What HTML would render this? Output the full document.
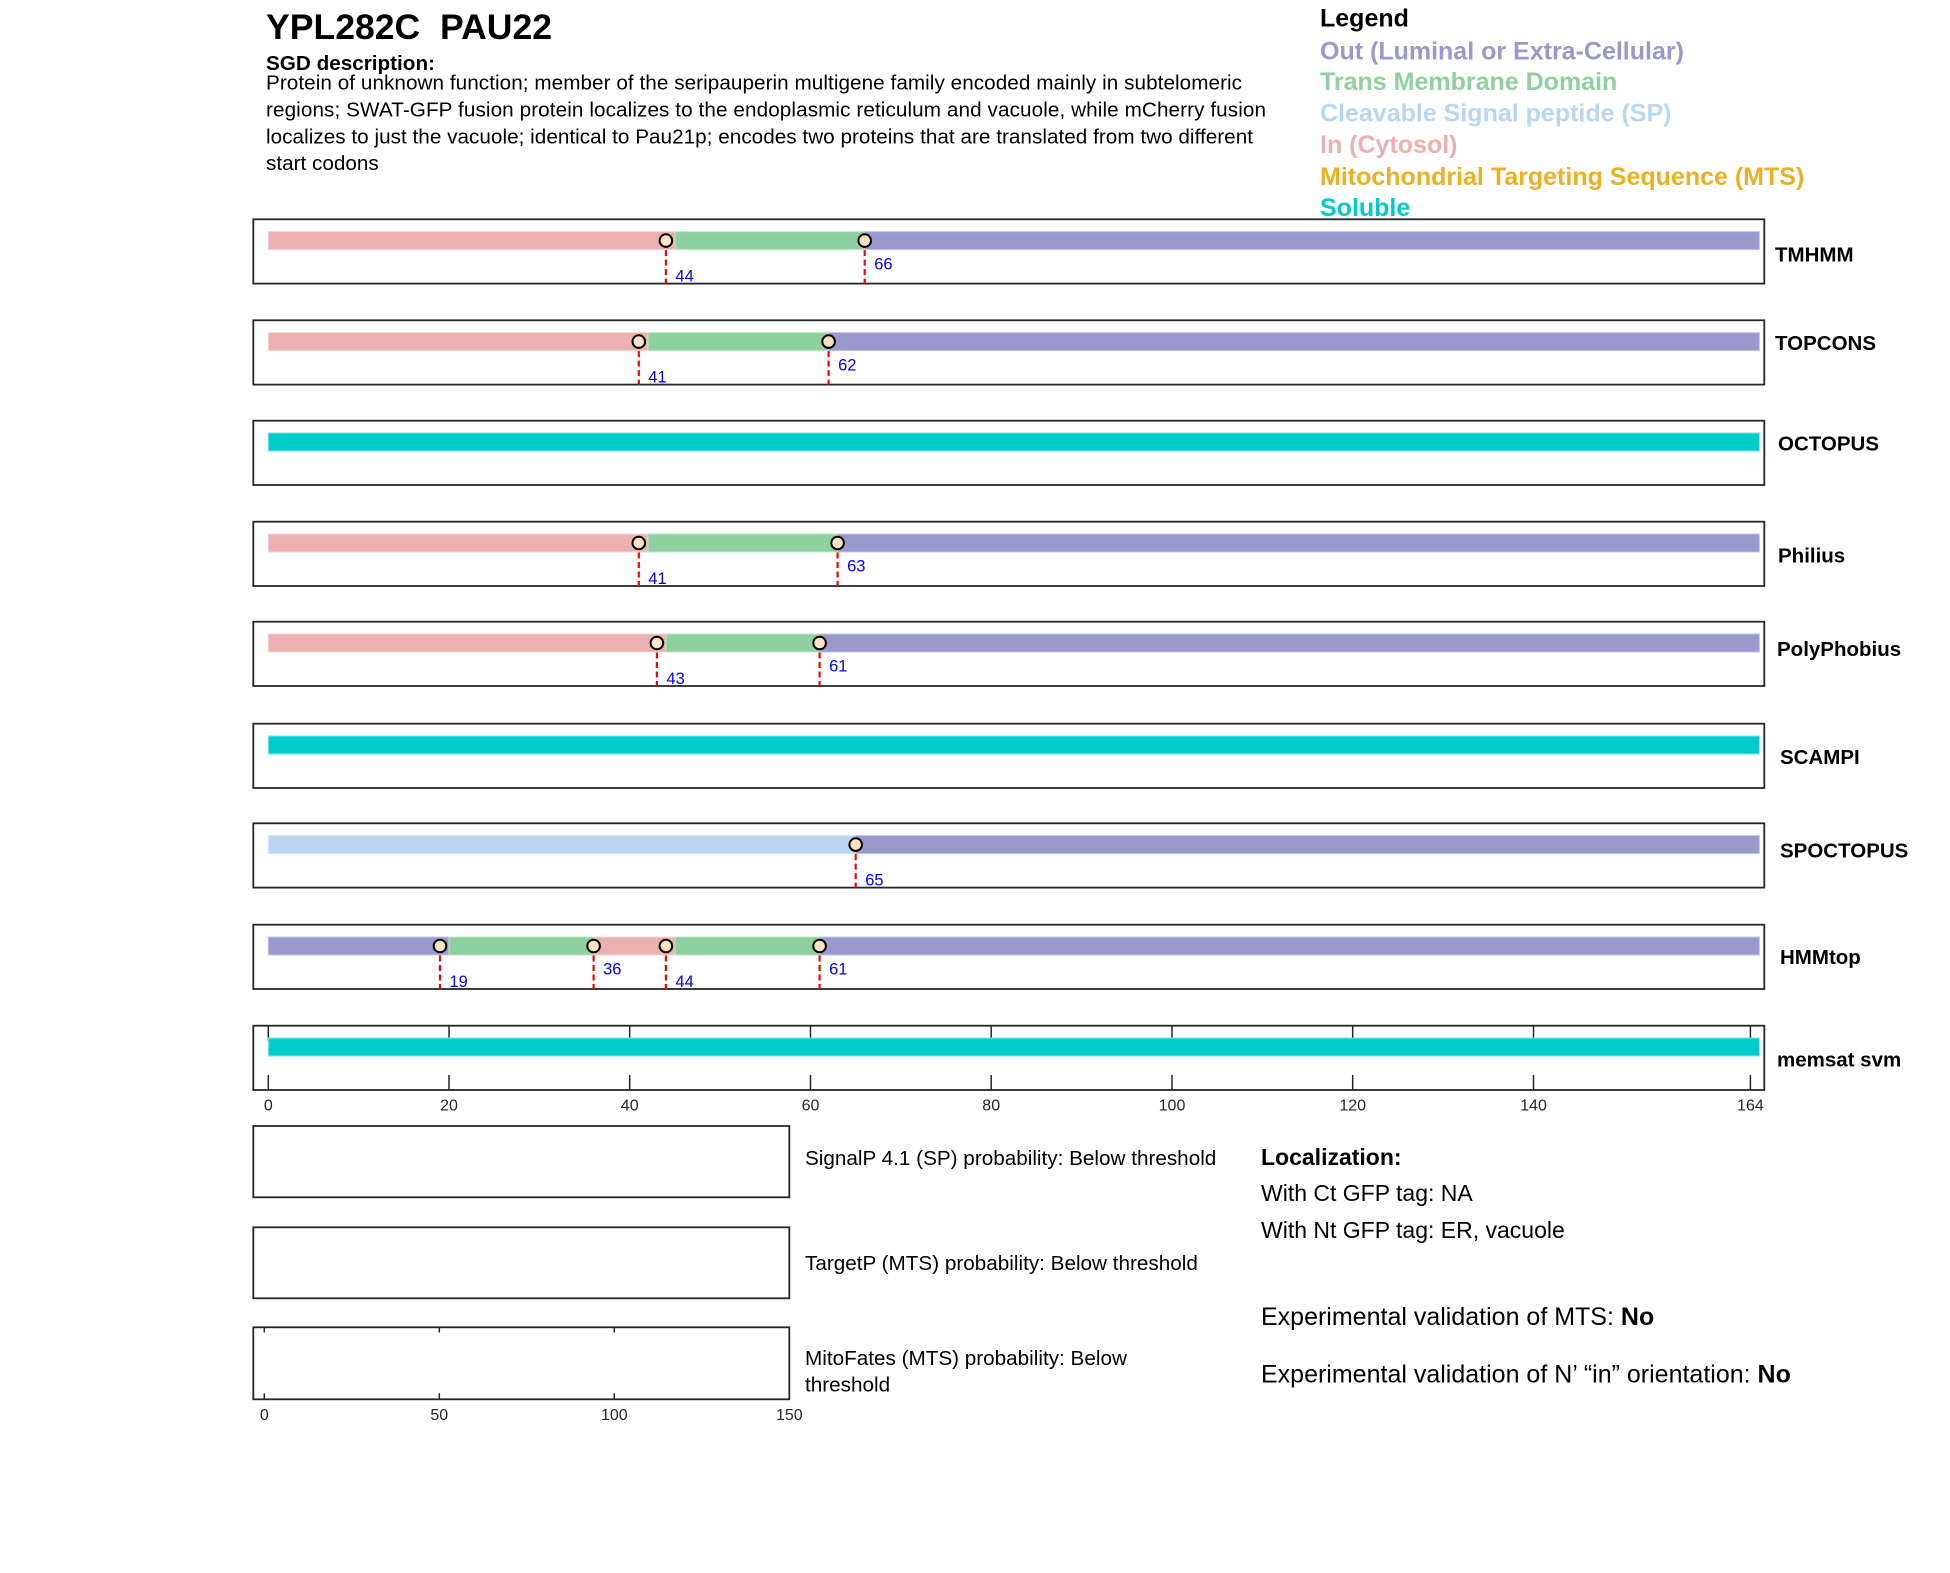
<!DOCTYPE html>
<html>
<head>
<meta charset="utf-8">
<style>
html,body{margin:0;padding:0;background:#fff;}
svg{display:block;}
text{font-family:"Liberation Sans",Arial,Helvetica,sans-serif;}
.lbl{font-weight:bold;font-size:20.5px;fill:#000;}
.num{font-size:16.5px;fill:#0000ff;}
.tick{font-size:16px;fill:#262626;}
.box{fill:none;stroke:#262626;stroke-width:1.8;}
.dash{stroke:#ff0000;stroke-width:2.2;stroke-dasharray:6,3.5;}
.mk{fill:#fde2c4;stroke:#000;stroke-width:2;}
.out{fill:#9999cc;stroke:#c4c4e4;stroke-width:1;}
.tm{fill:#8fd19e;stroke:#bfe6c8;stroke-width:1;}
.inn{fill:#ecb0b0;stroke:#f6d4d4;stroke-width:1;}
.sp{fill:#bad6f3;stroke:#d9e8f8;stroke-width:1;}
.sol{fill:#00cccc;stroke:#80e6e6;stroke-width:1;}
.desc{font-size:20.7px;fill:#000;}
.leg{font-weight:bold;font-size:25px;}
</style>
</head>
<body>
<svg width="1950" height="1573" viewBox="0 0 1950 1573" xmlns="http://www.w3.org/2000/svg">
<rect x="0" y="0" width="1950" height="1573" fill="#fff"/>

<!-- Title & description -->
<text x="266" y="39" font-weight="bold" font-size="35.6px" fill="#000" xml:space="preserve">YPL282C  PAU22</text>
<text x="266" y="70" font-weight="bold" font-size="20.7px" fill="#000">SGD description:</text>
<text class="desc" x="266" y="89.3" textLength="976" lengthAdjust="spacing">Protein of unknown function; member of the seripauperin multigene family encoded mainly in subtelomeric</text>
<text class="desc" x="266" y="116.5" textLength="1000" lengthAdjust="spacing">regions; SWAT-GFP fusion protein localizes to the endoplasmic reticulum and vacuole, while mCherry fusion</text>
<text class="desc" x="266" y="143.3" textLength="987" lengthAdjust="spacing">localizes to just the vacuole; identical to Pau21p; encodes two proteins that are translated from two different</text>
<text class="desc" x="266" y="170">start codons</text>

<!-- Legend -->
<text class="leg" x="1320" y="26.7" fill="#000">Legend</text>
<text class="leg" x="1320" y="59.3" fill="#9999cc">Out (Luminal or Extra-Cellular)</text>
<text class="leg" x="1320" y="90" fill="#8fd19e">Trans Membrane Domain</text>
<text class="leg" x="1320" y="121.7" fill="#bad6f3">Cleavable Signal peptide (SP)</text>
<text class="leg" x="1320" y="153" fill="#ecb0b0">In (Cytosol)</text>
<text class="leg" x="1320" y="185" fill="#eeb020">Mitochondrial Targeting Sequence (MTS)</text>
<text class="leg" x="1320" y="216" fill="#00cccc">Soluble</text>

<!-- Panel 1: TMHMM -->
<rect class="box" x="253.3" y="219.3" width="1511" height="64.3"/>
<rect class="inn" x="268.3" y="231.6" width="406.7" height="18"/>
<rect class="tm" x="675" y="231.6" width="189.7" height="18"/>
<rect class="out" x="864.7" y="231.6" width="894.7" height="18"/>
<line class="dash" x1="665.9" y1="240.6" x2="665.9" y2="283.6"/>
<line class="dash" x1="864.7" y1="240.6" x2="864.7" y2="283.6"/>
<circle class="mk" cx="665.9" cy="240.6" r="6.3"/>
<circle class="mk" cx="864.7" cy="240.6" r="6.3"/>
<text class="num" x="675.4" y="281.6">44</text>
<text class="num" x="874.2" y="269.3">66</text>
<text class="lbl" x="1775" y="261.7">TMHMM</text>

<!-- Panel 2: TOPCONS -->
<rect class="box" x="253.3" y="320.3" width="1511" height="64.3"/>
<rect class="inn" x="268.3" y="332.6" width="379.6" height="18"/>
<rect class="tm" x="647.9" y="332.6" width="180.7" height="18"/>
<rect class="out" x="828.6" y="332.6" width="930.8" height="18"/>
<line class="dash" x1="638.8" y1="341.6" x2="638.8" y2="384.6"/>
<line class="dash" x1="828.6" y1="341.6" x2="828.6" y2="384.6"/>
<circle class="mk" cx="638.8" cy="341.6" r="6.3"/>
<circle class="mk" cx="828.6" cy="341.6" r="6.3"/>
<text class="num" x="648.3" y="382.6">41</text>
<text class="num" x="838.1" y="370.3">62</text>
<text class="lbl" x="1775" y="350">TOPCONS</text>

<!-- Panel 3: OCTOPUS -->
<rect class="box" x="253.3" y="420.7" width="1511" height="64.3"/>
<rect class="sol" x="268.3" y="433" width="1491.1" height="18"/>
<text class="lbl" x="1778" y="450.7">OCTOPUS</text>

<!-- Panel 4: Philius -->
<rect class="box" x="253.3" y="521.7" width="1511" height="64.3"/>
<rect class="inn" x="268.3" y="534" width="379.6" height="18"/>
<rect class="tm" x="647.9" y="534" width="189.7" height="18"/>
<rect class="out" x="837.6" y="534" width="921.8" height="18"/>
<line class="dash" x1="638.8" y1="543" x2="638.8" y2="586"/>
<line class="dash" x1="837.6" y1="543" x2="837.6" y2="586"/>
<circle class="mk" cx="638.8" cy="543" r="6.3"/>
<circle class="mk" cx="837.6" cy="543" r="6.3"/>
<text class="num" x="648.3" y="584">41</text>
<text class="num" x="847.1" y="571.7">63</text>
<text class="lbl" x="1778" y="562.3">Philius</text>

<!-- Panel 5: PolyPhobius -->
<rect class="box" x="253.3" y="621.7" width="1511" height="64.3"/>
<rect class="inn" x="268.3" y="634" width="397.6" height="18"/>
<rect class="tm" x="665.9" y="634" width="153.7" height="18"/>
<rect class="out" x="819.6" y="634" width="939.8" height="18"/>
<line class="dash" x1="656.9" y1="643" x2="656.9" y2="686"/>
<line class="dash" x1="819.6" y1="643" x2="819.6" y2="686"/>
<circle class="mk" cx="656.9" cy="643" r="6.3"/>
<circle class="mk" cx="819.6" cy="643" r="6.3"/>
<text class="num" x="666.4" y="684">43</text>
<text class="num" x="829.1" y="671.7">61</text>
<text class="lbl" x="1777" y="656">PolyPhobius</text>

<!-- Panel 6: SCAMPI -->
<rect class="box" x="253.3" y="723.7" width="1511" height="64.3"/>
<rect class="sol" x="268.3" y="736" width="1491.1" height="18"/>
<text class="lbl" x="1780" y="764">SCAMPI</text>

<!-- Panel 7: SPOCTOPUS -->
<rect class="box" x="253.3" y="823.3" width="1511" height="64.3"/>
<rect class="sp" x="268.3" y="835.6" width="587.4" height="18"/>
<rect class="out" x="855.7" y="835.6" width="903.7" height="18"/>
<line class="dash" x1="855.7" y1="844.6" x2="855.7" y2="887.6"/>
<circle class="mk" cx="855.7" cy="844.6" r="6.3"/>
<text class="num" x="865.2" y="885.6">65</text>
<text class="lbl" x="1780" y="857.3">SPOCTOPUS</text>

<!-- Panel 8: HMMtop -->
<rect class="box" x="253.3" y="924.7" width="1511" height="64.3"/>
<rect class="out" x="268.3" y="937" width="180.7" height="18"/>
<rect class="tm" x="449" y="937" width="144.6" height="18"/>
<rect class="inn" x="593.6" y="937" width="81.4" height="18"/>
<rect class="tm" x="675" y="937" width="144.6" height="18"/>
<rect class="out" x="819.6" y="937" width="939.8" height="18"/>
<line class="dash" x1="440" y1="946" x2="440" y2="989"/>
<line class="dash" x1="593.6" y1="946" x2="593.6" y2="989"/>
<line class="dash" x1="665.9" y1="946" x2="665.9" y2="989"/>
<line class="dash" x1="819.6" y1="946" x2="819.6" y2="989"/>
<circle class="mk" cx="440" cy="946" r="6.3"/>
<circle class="mk" cx="593.6" cy="946" r="6.3"/>
<circle class="mk" cx="665.9" cy="946" r="6.3"/>
<circle class="mk" cx="819.6" cy="946" r="6.3"/>
<text class="num" x="449.5" y="987">19</text>
<text class="num" x="603.1" y="974.7">36</text>
<text class="num" x="675.4" y="987">44</text>
<text class="num" x="829.1" y="974.7">61</text>
<text class="lbl" x="1780" y="964">HMMtop</text>

<!-- Panel 9: memsat svm with axis -->
<g stroke="#262626" stroke-width="1.5">
<line x1="268.3" y1="1025.7" x2="268.3" y2="1040.7"/><line x1="268.3" y1="1090" x2="268.3" y2="1075"/>
<line x1="449" y1="1025.7" x2="449" y2="1040.7"/><line x1="449" y1="1090" x2="449" y2="1075"/>
<line x1="629.7" y1="1025.7" x2="629.7" y2="1040.7"/><line x1="629.7" y1="1090" x2="629.7" y2="1075"/>
<line x1="810.5" y1="1025.7" x2="810.5" y2="1040.7"/><line x1="810.5" y1="1090" x2="810.5" y2="1075"/>
<line x1="991.2" y1="1025.7" x2="991.2" y2="1040.7"/><line x1="991.2" y1="1090" x2="991.2" y2="1075"/>
<line x1="1172" y1="1025.7" x2="1172" y2="1040.7"/><line x1="1172" y1="1090" x2="1172" y2="1075"/>
<line x1="1352.7" y1="1025.7" x2="1352.7" y2="1040.7"/><line x1="1352.7" y1="1090" x2="1352.7" y2="1075"/>
<line x1="1533.5" y1="1025.7" x2="1533.5" y2="1040.7"/><line x1="1533.5" y1="1090" x2="1533.5" y2="1075"/>
<line x1="1750.4" y1="1025.7" x2="1750.4" y2="1040.7"/><line x1="1750.4" y1="1090" x2="1750.4" y2="1075"/>
</g>
<rect class="box" x="253.3" y="1025.7" width="1511" height="64.3"/>
<rect class="sol" x="268.3" y="1038" width="1491.1" height="18"/>
<text class="lbl" x="1777" y="1066.7">memsat svm</text>
<g class="tick" text-anchor="middle">
<text class="tick" x="268.3" y="1110.7">0</text>
<text class="tick" x="449" y="1110.7">20</text>
<text class="tick" x="629.7" y="1110.7">40</text>
<text class="tick" x="810.5" y="1110.7">60</text>
<text class="tick" x="991.2" y="1110.7">80</text>
<text class="tick" x="1172" y="1110.7">100</text>
<text class="tick" x="1352.7" y="1110.7">120</text>
<text class="tick" x="1533.5" y="1110.7">140</text>
<text class="tick" x="1750.4" y="1110.7">164</text>
</g>

<!-- Bottom probability panels -->
<rect class="box" x="253.3" y="1126" width="536" height="71.3"/>
<rect class="box" x="253.3" y="1227.3" width="536" height="71"/>
<rect class="box" x="253.3" y="1327.3" width="536" height="72"/>
<g stroke="#262626" stroke-width="1.5">
<line x1="264.3" y1="1327.3" x2="264.3" y2="1332.5"/><line x1="264.3" y1="1399.3" x2="264.3" y2="1393.3"/>
<line x1="439.3" y1="1327.3" x2="439.3" y2="1332.5"/><line x1="439.3" y1="1399.3" x2="439.3" y2="1393.3"/>
<line x1="614.3" y1="1327.3" x2="614.3" y2="1332.5"/><line x1="614.3" y1="1399.3" x2="614.3" y2="1393.3"/>
</g>
<g text-anchor="middle">
<text class="tick" x="264.3" y="1420">0</text>
<text class="tick" x="439.3" y="1420">50</text>
<text class="tick" x="614.3" y="1420">100</text>
<text class="tick" x="789.3" y="1420">150</text>
</g>

<text class="desc" x="805" y="1165">SignalP 4.1 (SP) probability: Below threshold</text>
<text class="desc" x="805" y="1270">TargetP (MTS) probability: Below threshold</text>
<text class="desc" x="805" y="1365">MitoFates (MTS) probability: Below</text>
<text class="desc" x="805" y="1391.7">threshold</text>

<!-- Localization -->
<text x="1261" y="1165" font-weight="bold" font-size="23px" fill="#000">Localization:</text>
<text x="1261" y="1201" font-size="23px" fill="#000">With Ct GFP tag: NA</text>
<text x="1261" y="1238" font-size="23px" fill="#000">With Nt GFP tag: ER, vacuole</text>
<text x="1261" y="1325" font-size="25px" fill="#000">Experimental validation of MTS: <tspan font-weight="bold">No</tspan></text>
<text x="1261" y="1382.3" font-size="25px" fill="#000">Experimental validation of N’ “in” orientation: <tspan font-weight="bold">No</tspan></text>
</svg>
</body>
</html>
